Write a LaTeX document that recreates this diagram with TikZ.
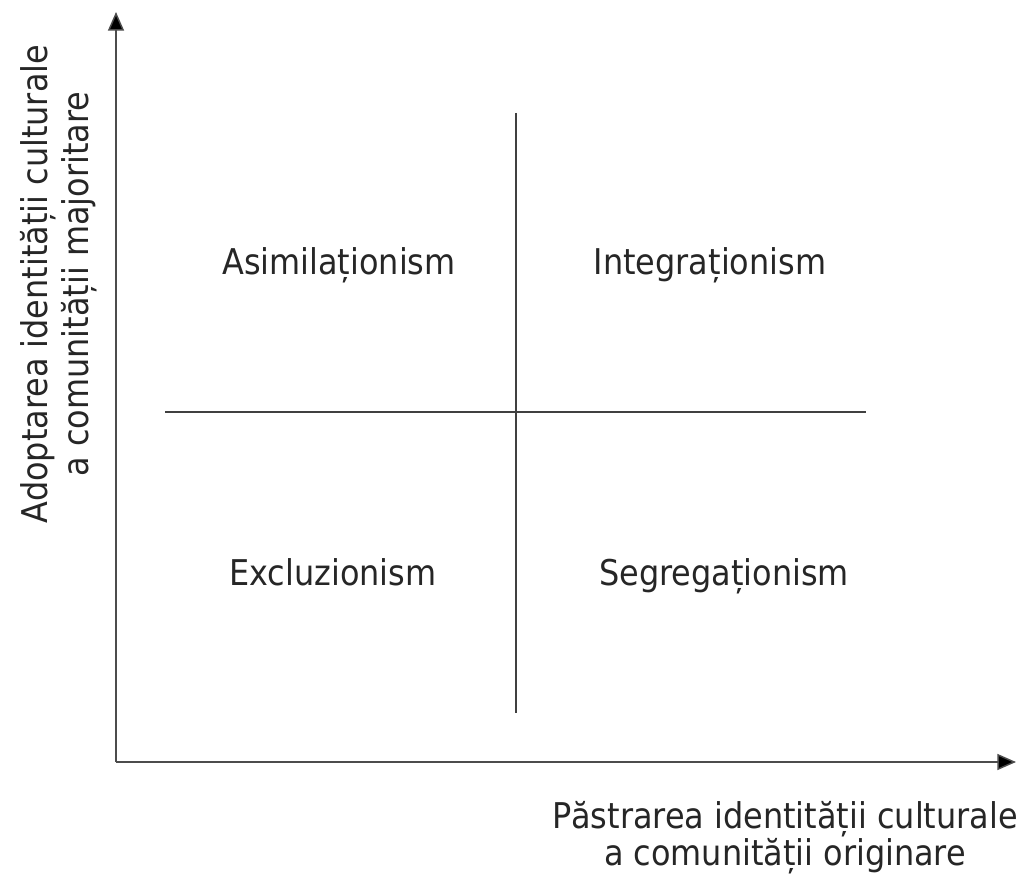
\documentclass[tikz,border=0pt]{standalone}
\usepackage{fontspec}
\setmainfont{DejaVu Sans Condensed}
\usetikzlibrary{arrows.meta}

\begin{document}
\begin{tikzpicture}[x=0.75pt,y=0.75pt,yscale=-1,xscale=1]
\tikzset{axisline/.style={draw=black!70, line width=1.1pt, -{Triangle[length=14pt,width=12pt,fill=black]}},
  gridline/.style={draw=black!75, line width=0.9pt},
  lbl/.style={inner sep=0pt, text=black!85, font=\fontsize{26.6}{28}\selectfont, align=center}}
\useasboundingbox (0,0) rectangle (1024,877);

%Axes
\coordinate (O) at (116,762);
\coordinate (ytop) at (116,12);
\coordinate (xend) at (1016,762);
\draw [axisline] (O) -- (ytop) ;
\draw [axisline] (O) -- (xend) ;

%Grid lines
\coordinate (vtop) at (516,113);
\coordinate (vbot) at (516,713);
\coordinate (hleft) at (165,412);
\coordinate (hright) at (866,412);
\draw [gridline] (vtop) -- (vbot) ;
\draw [gridline] (hleft) -- (hright) ;

% Quadrant labels
\node [lbl, anchor=base] (asim) at (339,275) {Asimilaționism};
\node [lbl, anchor=base] (integ) at (710,275) {Integraționism};
\node [lbl, anchor=base] (excl) at (333,585) {Excluzionism};
\node [lbl, anchor=base] (segr) at (724,585) {Segregaționism};

% Axis labels
\node [lbl] (xlabel) at (785,838) {Păstrarea identității culturale\\a comunității originare};
\node [lbl, rotate=90, font=\fontsize{26.6}{31}\selectfont] (ylabel) at (59,284) {Adoptarea identității culturale\\a comunității majoritare};

\end{tikzpicture}
\end{document}
